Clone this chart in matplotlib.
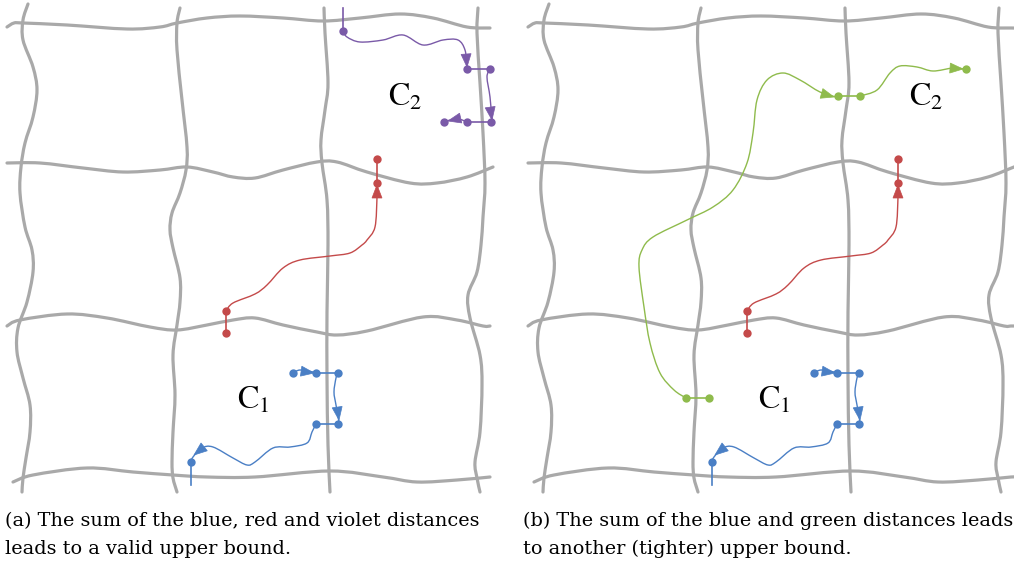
import numpy as np
import matplotlib.pyplot as plt
from matplotlib.path import Path
from matplotlib.patches import PathPatch, Polygon

W, H = 1014, 565
SHIFT = 521  # right panel = left panel moved right

GRAY = "#a9a9a9"
BLUE = "#4a7fc5"
RED = "#c44a4a"
VIOLET = "#7a5aa8"
GREEN = "#8fbb4c"

# wavy grid lines (pixel coords, left panel)
h_lines = [
    [(7, 27), (14, 23), (23, 23), (67, 25), (127, 29), (160, 27), (177, 23), (207, 18), (240, 16),
     (283, 18), (323, 21), (360, 18), (400, 14), (433, 18), (467, 27), (490, 28)],
    [(7, 163), (40, 163), (83, 168), (123, 172), (160, 170), (187, 167), (213, 172), (233, 177),
     (255, 178), (283, 170), (317, 162), (337, 162), (367, 172), (410, 183), (437, 183), (467, 177), (493, 167)],
    [(7, 326), (20, 320), (67, 314), (107, 318), (150, 327), (177, 330), (207, 325), (233, 320),
     (255, 318), (283, 325), (317, 332), (337, 335), (367, 331), (423, 317), (457, 320), (483, 326), (490, 326)],
    [(13, 482), (33, 475), (87, 468), (133, 472), (173, 475), (207, 477), (255, 477), (330, 471),
     (383, 477), (417, 482), (457, 480), (490, 477)],
]
v_lines = [
    [(28, 4), (23, 20), (23, 40), (33, 67), (37, 90), (33, 117), (25, 143), (21, 167), (20, 193),
     (25, 227), (32, 250), (33, 272), (27, 302), (18, 328), (17, 352), (23, 378), (30, 405),
     (30, 432), (26, 458), (23, 478), (22, 492)],
    [(180, 8), (177, 23), (177, 50), (182, 100), (187, 147), (186, 170), (180, 193), (172, 213),
     (170, 230), (173, 248), (180, 278), (180, 302), (177, 325), (173, 355), (175, 395),
     (173, 432), (172, 462), (173, 478), (177, 492)],
    [(324, 8), (325, 33), (328, 83), (325, 110), (321, 140), (322, 163), (327, 200), (328, 245),
     (327, 312), (327, 378), (328, 445), (330, 492)],
    [(478, 8), (477, 33), (480, 83), (483, 133), (485, 183), (483, 217), (481, 245), (477, 272),
     (468, 295), (470, 318), (480, 355), (482, 385), (480, 432), (475, 462), (477, 478), (480, 492)],
]

# distance paths: smooth curves, straight links, dots, arrow heads (tip, point behind tip)
blue_curves = [
    [(293, 373), (300, 370), (313, 372)],
    [(338, 373), (336, 378), (334, 392), (336, 405), (339, 422)],
    [(316, 424), (312, 432), (307, 443), (290, 447), (273, 448), (255, 462), (247, 465),
     (233, 458), (213, 447), (202, 448), (193, 457), (191, 462)],
]
blue_links = [[(316, 373), (338, 373)], [(338, 424), (316, 424)], [(191, 462), (191, 485)]]
blue_dots = [(293, 373), (316, 373), (338, 373), (338, 424), (316, 424), (191, 462)]
blue_arrows = [((314, 373), (300, 371)), ((339, 420), (337, 406)), ((194, 455), (204, 447))]

red_curves = [[(226, 311), (233, 303), (255, 294), (267, 285), (283, 268), (300, 260), (330, 256),
               (350, 253), (362, 245), (367, 240), (375, 227), (377, 197), (377, 185)]]
red_links = [[(377, 159), (377, 183)], [(226, 311), (226, 333)]]
red_dots = [(377, 159), (377, 183), (226, 311), (226, 333)]
red_arrows = [((377, 185), (377, 200))]

violet_curves = [
    [(343, 31), (347, 37), (360, 42), (383, 40), (403, 35), (423, 45), (443, 40), (458, 40),
     (465, 50), (467, 67)],
    [(490, 69), (487, 77), (490, 97), (492, 120)],
    [(467, 122), (458, 119), (446, 121)],
]
violet_links = [[(343, 8), (343, 31)], [(467, 69), (490, 69)], [(490, 122), (467, 122)]]
violet_dots = [(343, 31), (467, 69), (490, 69), (491, 122), (467, 122), (444, 122)]
violet_arrows = [((467, 67), (466, 53)), ((492, 120), (490, 106)), ((448, 121), (461, 118))]

green_curves = [
    [(686, 398), (674, 390), (660, 373), (650, 343), (644, 307), (639, 267), (642, 250), (653, 237),
     (687, 220), (713, 207), (733, 190), (747, 163), (753, 133), (757, 100), (767, 80), (783, 73),
     (800, 80), (820, 92), (836, 97)],
    [(860, 96), (877, 90), (890, 73), (900, 66), (917, 67), (933, 71), (953, 68), (964, 69)],
]
green_links = [[(686, 398), (709, 398)], [(838, 96), (860, 96)]]
green_dots = [(686, 398), (709, 398), (838, 96), (860, 96), (966, 69)]
green_arrows = [((834, 97), (820, 93)), ((963, 69), (949, 68))]

C_labels = [("C", "1", 237, 400), ("C", "2", 388, 97)]

caption_a = ["(a) The sum of the blue, red and violet distances", "leads to a valid upper bound."]
caption_b = ["(b) The sum of the blue and green distances leads", "to another (tighter) upper bound."]


def smooth_path(pts):
    # Catmull-Rom through the points, handed to matplotlib as cubic Bezier segments
    p = np.array(pts, float)
    p = np.vstack([p[0], p, p[-1]])
    verts = [p[1]]
    codes = [Path.MOVETO]
    for i in range(1, len(p) - 2):
        c1 = p[i] + (p[i + 1] - p[i - 1]) / 6
        c2 = p[i + 1] - (p[i + 2] - p[i]) / 6
        verts += [c1, c2, p[i + 1]]
        codes += [Path.CURVE4] * 3
    return Path(verts, codes)


def moved(pts, dx):
    return [(x + dx, y) for x, y in pts]


def draw_curve(ax, pts, color, lw):
    ax.add_patch(PathPatch(smooth_path(pts), fill=False, edgecolor=color, lw=lw,
                           capstyle="round", joinstyle="round"))


def draw_arrow(ax, tip, back, color, length=13, half=5):
    tip = np.array(tip, float)
    d = tip - np.array(back, float)
    d /= np.hypot(*d)
    n = np.array([-d[1], d[0]])
    base = tip - d * length
    ax.add_patch(Polygon([tip, base + n * half, base - n * half], closed=True,
                         facecolor=color, edgecolor=color, lw=0.5))


def draw_route(ax, curves, links, dots, arrows, color, dx=0):
    for c in curves:
        draw_curve(ax, moved(c, dx), color, 1.0)
    for seg in links:
        xs, ys = zip(*moved(seg, dx))
        ax.plot(xs, ys, color=color, lw=1.2)
    xs, ys = zip(*moved(dots, dx))
    ax.plot(xs, ys, "o", color=color, ms=6, mec="none")
    for tip, back in arrows:
        draw_arrow(ax, moved([tip], dx)[0], moved([back], dx)[0], color)


fig = plt.figure(figsize=(W / 100, H / 100), dpi=100)
ax = fig.add_axes([0, 0, 1, 1])
ax.set_xlim(0, W)
ax.set_ylim(H, 0)
ax.axis("off")

plt.rcParams["mathtext.fontset"] = "stix"

for dx in (0, SHIFT):
    for line in h_lines + v_lines:
        pts = moved(line, dx)
        if dx and line in h_lines:
            pts = pts + [(W + 2, pts[-1][1])]  # right panel lines run off the edge
        draw_curve(ax, pts, GRAY, 2.3)
    draw_route(ax, blue_curves, blue_links, blue_dots, blue_arrows, BLUE, dx)
    draw_route(ax, red_curves, red_links, red_dots, red_arrows, RED, dx)
    for c, sub, x, y in C_labels:
        ax.text(x + dx, y, rf"$\mathrm{{{c}}}_{{{sub}}}$", fontsize=23, ha="left", va="center")

draw_route(ax, violet_curves, violet_links, violet_dots, violet_arrows, VIOLET)
draw_route(ax, green_curves, green_links, green_dots, green_arrows, GREEN)

for i, (la, lb) in enumerate(zip(caption_a, caption_b)):
    y = 521 + i * 28
    ax.text(5, y, la, fontsize=13.9, family="DejaVu Serif", va="center", ha="left")
    ax.text(SHIFT + 2, y, lb, fontsize=13.9, family="DejaVu Serif", va="center", ha="left")

fig.savefig("out.png", dpi=100)
